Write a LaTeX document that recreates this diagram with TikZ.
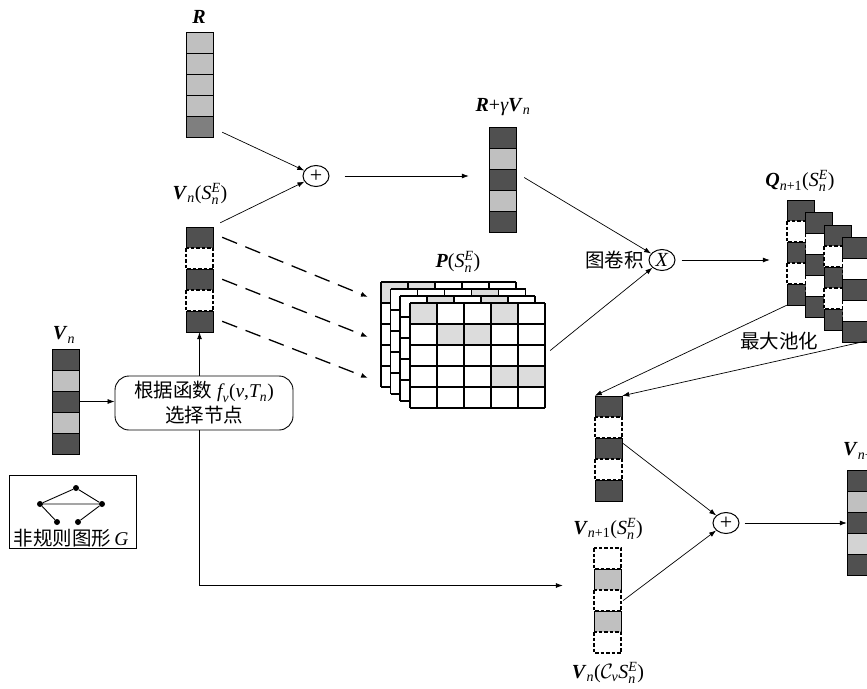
\documentclass[tikz,border=0pt]{standalone}
\usepackage{amsmath}
\usepackage{fontspec}
\setmainfont{Liberation Serif}
\newfontfamily\cjk{Noto Sans CJK SC}
\usetikzlibrary{arrows.meta,shapes.geometric,calc}
\definecolor{cdark}{HTML}{505050}
\definecolor{clight}{HTML}{C0C0C0}
\definecolor{cmid}{HTML}{7F7F7F}
\definecolor{cxlight}{HTML}{D3D3D3}
\definecolor{pgray}{HTML}{DCDCDC}
\newcommand\ti[1]{\textit{#1}}
\newcommand\tb[1]{\textbf{\textit{#1}}}
\tikzset{
  cell/.style={draw=black, line width=0.9pt},
  cdk/.style={cell, fill=cdark},
  clt/.style={cell, fill=clight},
  cmd/.style={cell, fill=cmid},
  cxl/.style={cell, fill=cxlight},
  cwh/.style={cell, fill=white, dash pattern=on 3.5pt off 2pt, line width=1.1pt},
  colframe/.style={rectangle, minimum width=27pt, minimum height=105pt, inner sep=0pt},
  arr/.style={-{Latex[length=7pt,width=5pt]}, line width=0.7pt},
  darr/.style={-{Latex[length=7pt,width=5pt]}, line width=1.3pt, dash pattern=on 16pt off 9pt},
  lab/.style={font=\fontsize{20}{24}\selectfont, inner sep=0pt},
  zh/.style={font=\fontsize{19.5}{24}\selectfont\cjk, inner sep=0pt},
  op/.style={ellipse, draw, line width=1pt, minimum width=26pt, minimum height=21pt, inner sep=0pt},
  gdot/.style={circle, fill=black, minimum size=6pt, inner sep=0pt},
}
\newcommand\vcol[4]{%
  \node[colframe] (#1) at (#2+13.5,#3+52.5) {};
  \foreach \s [count=\i from 0] in {#4} {\draw[style=\s] (#2,#3+21*\i) rectangle ++(27,21);}
}
\newcommand\pgrid[3]{%
  \fill[white] (#1,#2) rectangle ++(135,105);
  \foreach \c/\r in {#3} {\fill[pgray] (#1+27*\c,#2+21*\r) rectangle ++(27,21);}
  \foreach \k in {0,...,5} {\draw[line width=1.1pt] (#1+27*\k,#2) -- ++(0,105); \draw[line width=1.1pt] (#1,#2+21*\k) -- ++(135,0);}
}
\begin{document}
\begin{tikzpicture}[x=1pt,y=-1pt]
\useasboundingbox (0,0) rectangle (867,688);
\fill[white] (0,0) rectangle (867,688);

% columns
\vcol{R}{186}{32}{clt,clt,clt,clt,cmd}
\vcol{RG}{489}{127}{cdk,clt,cdk,clt,cdk}
\vcol{VS}{186}{227}{cdk,cwh,cdk,cwh,cdk}
\vcol{V}{52}{349}{cdk,clt,cdk,clt,cdk}
\vcol{VM}{595}{396}{cdk,cwh,cdk,cwh,cdk}
\vcol{VC}{594}{548}{cwh,clt,cwh,clt,cwh}
\vcol{VN}{847}{470}{cdk,clt,cdk,cxl,cdk}
\vcol{Qa}{787}{200}{cdk,cwh,cdk,cwh,cdk}
\vcol{Qb}{805.5}{212.5}{cdk,cwh,cdk,cwh,cdk}
\vcol{Qc}{824}{225}{cdk,cwh,cdk,cwh,cdk}
\vcol{Qd}{842.5}{237.5}{cdk,cwh,cdk,cwh,cdk}

% P stack
\pgrid{381}{282}{0/0,1/0}
\pgrid{390.5}{289}{3/0}
\pgrid{400}{296}{1/0,3/0}
\pgrid{410}{303}{0/0,3/0,1/1,2/1,3/3,4/3}
\node[colframe, minimum width=135pt] (P) at (477.5,355.5) {};

% labels
\node[lab] (Rl) at (199,17) {\tb{R}};
\node[lab] (RGl) at (503,107) {$\tb{R}\textrm{+}\ti{γ}\tb{V}_{\ti{n}}$};
\node[lab] (VSl) at (200,194) {$\tb{V}_{\ti{n}}\textrm{(}\ti{S}_{\ti{n}}^{\ti{E}}\textrm{)}$};
\node[lab] (Vl) at (64,335) {$\tb{V}_{\ti{n}}$};
\node[lab] (Pl) at (458,262) {$\tb{P}\textrm{(}\ti{S}_{\ti{n}}^{\ti{E}}\textrm{)}$};
\node[lab] (Ql) at (800,181) {$\tb{Q}_{\ti{n}\textrm{+1}}\textrm{(}\ti{S}_{\ti{n}}^{\ti{E}}\textrm{)}$};
\node[lab] (VCl) at (608,529) {$\tb{V}_{\ti{n}\textrm{+1}}\textrm{(}\ti{S}_{\ti{n}}^{\ti{E}}\textrm{)}$};
\node[lab] (VCb) at (608,673) {$\tb{V}_{\ti{n}}\textrm{(}\mathcal{C}_{\ti{v}}\ti{S}_{\ti{n}}^{\ti{E}}\textrm{)}$};
\node[lab, anchor=west] (VNl) at (843,451) {$\tb{V}_{\ti{n}\textrm{+1}}$};
\node[zh, anchor=east] (conv) at (644,260) {图卷积};
\node[zh] (mp) at (779,341) {最大池化};

% operators
\node[op] (P1) at (316,176) {\fontsize{22}{22}\selectfont +};
\node[op] (X) at (662,260) {\fontsize{20}{20}\selectfont\ti{X}};
\node[op] (P2) at (726,523) {\fontsize{22}{22}\selectfont +};

% selection box
\node[draw, rounded corners=14pt, minimum width=178pt, minimum height=54pt, align=center, line width=0.9pt, font=\fontsize{19.5}{25}\selectfont] (B) at (204,403)
  {{\cjk 根据函数} $\ti{f}_{\ti{v}}\textrm{(}\ti{v}\textrm{,}\ti{T}_{\ti{n}}\textrm{)}$\\{\cjk 选择节点}};

% graph G box
\node[draw, minimum width=127pt, minimum height=73pt, line width=0.9pt] (G) at (72.5,511.5) {};
\node[gdot] (g1) at (76,488) {};
\node[gdot] (g2) at (40,504) {};
\node[gdot] (g3) at (102,504) {};
\node[gdot] (g4) at (57,522) {};
\node[gdot] (g5) at (78,522) {};
\draw[line width=0.9pt] (g1) -- (g2) (g1) -- (g3) (g2) -- (g3) (g2) -- (g4) (g3) -- (g5);
\node[font=\fontsize{19.5}{24}\selectfont, inner sep=0pt] (Gt) at (71,538) {{\cjk 非规则图形}\,\ti{G}};

% connectors
\draw[arr] ([shift={(9,-5)}]R.south east) -- (P1);
\draw[arr] ([shift={(7,-4)}]VS.north east) -- (P1);
\draw[arr, shorten <=15pt, shorten >=20pt] (P1.east) -- (P1.east -| RG.west);
\draw[arr] ([shift={(8,-2)}]RG.east) -- (X);
\draw[arr] ([shift={(5,-5)}]P.east) -- (X);
\draw[arr, shorten <=6pt, shorten >=17pt] (X.east) -- (X.east -| Qa.west);
\draw[arr] (Qa.south west) -- (VM.north west);
\draw[arr] ([shift={(-2,-2)}]Qd.south east) -- (VM.north east);
\draw[arr] (V.east) -- (V.east -| B.west);
\draw[arr] (B.north -| VS.south) -- (VS.south);
\coordinate (VCin) at ($(VC.west)+(-31,-15)$);
\draw[arr] (B.south -| VS.south) |- (VCin);
\draw[arr] ([shift={(1,-5)}]VM.east) -- (P2);
\draw[arr] ([shift={(2,0)}]VC.east) -- (P2);
\draw[arr, shorten <=5pt] (P2.east) -- (P2.east -| VN.west);

% dashed arrows to P
\coordinate (d1) at (368,297);
\coordinate (d2) at (368,337);
\coordinate (d3) at (368,378);
\draw[darr] ([shift={(9,10.5)}]VS.north east) -- (d1);
\draw[darr] ([shift={(9,52.5)}]VS.north east) -- (d2);
\draw[darr] ([shift={(9,94.5)}]VS.north east) -- (d3);
\end{tikzpicture}
\end{document}
